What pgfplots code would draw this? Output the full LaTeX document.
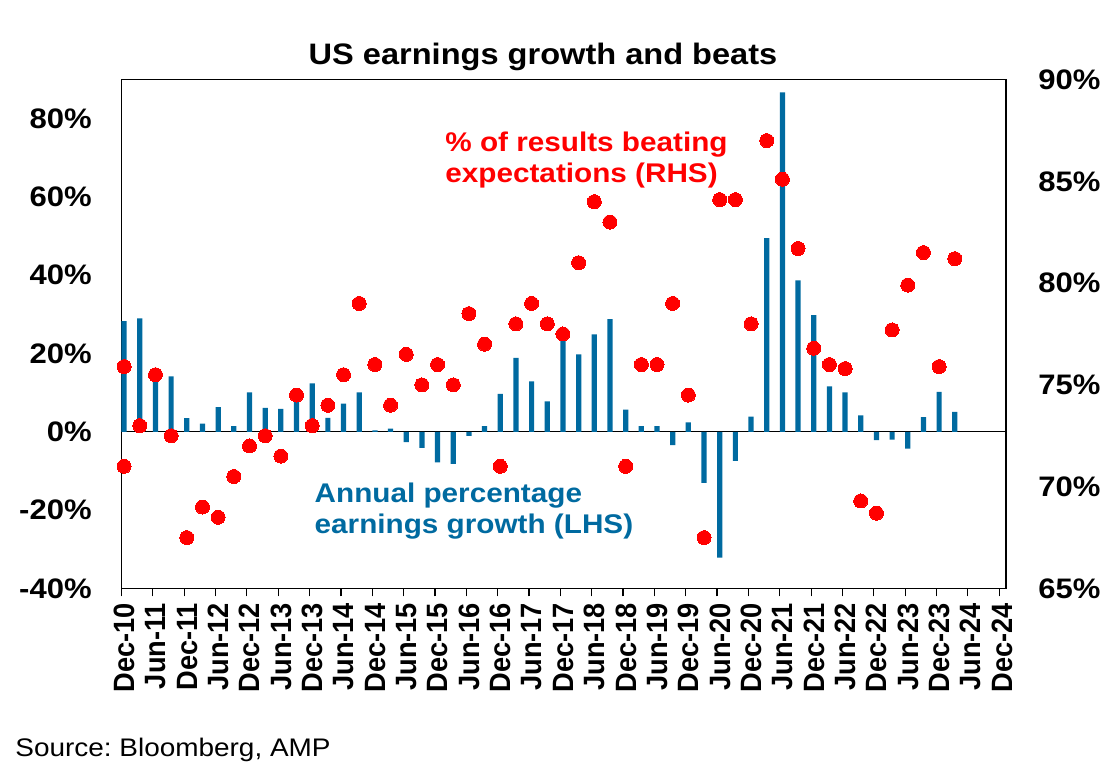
\documentclass[border=0pt]{standalone}
\usepackage{pgfplots}
\pgfplotsset{compat=1.18}
\usepackage{pgfplotstable}
\usepackage{graphicx}
\usepackage{fontspec}
\setmainfont{Liberation Sans}
\newfontfamily\wide{Liberation Sans}[FakeStretch=1.1]
\definecolor{barblue}{RGB}{0,106,160}
\definecolor{dotred}{RGB}{255,0,0}
\newcommand{\ylf}{\wide\bfseries\fontsize{14.1}{16}\selectfont}
\newcommand{\anf}{\wide\bfseries\fontsize{13.5}{16}\selectfont}
\newcommand{\xlf}{\bfseries\fontsize{13.6}{16}\selectfont}
\newcommand{\xl}[1]{\scalebox{1}[1.08]{#1}}
\frenchspacing

\pgfplotstableread{
x y
0.5 28.3
3.5 29.0
6.5 14.5
9.5 14.2
12.5 3.5
15.5 2.1
18.5 6.3
21.5 1.5
24.5 10.1
27.5 6.1
30.5 5.9
33.5 9.0
36.5 12.4
39.5 3.6
42.5 7.2
45.5 10.1
48.5 0.4
51.5 0.85
54.5 -2.6
57.5 -4.1
60.5 -7.8
63.5 -8.2
66.5 -1.0
69.5 1.5
72.5 9.7
75.5 18.9
78.5 12.9
81.5 7.8
84.5 23.5
87.5 19.8
90.5 24.9
93.5 28.8
96.5 5.7
99.5 1.5
102.5 1.45
105.5 -3.4
108.5 2.4
111.5 -13.0
114.5 -32.1
117.5 -7.4
120.5 3.9
123.5 49.5
126.5 86.7
129.5 38.7
132.5 29.8
135.5 11.6
138.5 10.1
141.5 4.2
144.5 -2.1
147.5 -2.0
150.5 -4.3
153.5 3.8
156.5 10.2
159.5 5.1
}\growth

\pgfplotstableread{
x y
0.5 71.0
0.5 75.9
3.5 73.0
6.5 75.5
9.5 72.5
12.5 67.5
15.5 69.0
18.5 68.5
21.5 70.5
24.5 72.0
27.5 72.5
30.5 71.5
33.5 74.5
36.5 73.0
39.5 74.0
42.5 75.5
45.5 79.0
48.5 76.0
51.5 74.0
54.5 76.5
57.5 75.0
60.5 76.0
63.5 75.0
66.5 78.5
69.5 77.0
72.5 71.0
75.5 78.0
78.5 79.0
81.5 78.0
84.5 77.5
87.5 81.0
90.5 84.0
93.5 83.0
96.5 71.0
99.5 76.0
102.5 76.0
105.5 79.0
108.5 74.5
111.5 67.5
114.5 84.1
117.5 84.1
120.5 78.0
123.5 87.0
126.5 85.1
129.5 81.7
132.5 76.8
135.5 76.0
138.5 75.8
141.5 69.3
144.5 68.7
147.5 77.7
150.5 79.9
153.5 81.5
156.5 75.9
159.5 81.2
}\beats

\begin{document}
\begin{tikzpicture}
\useasboundingbox (-60.75pt,-93.75pt) rectangle (496.25pt,294.25pt);
\begin{axis}[
  at={(0pt,0pt)}, anchor=south west,
  scale only axis, width=442.25pt, height=254.5pt,
  xmin=0, xmax=169.3, ymin=-40, ymax=90,
  axis line style={black, line width=0.6pt},
  xtick={0,6,...,168},
  xticklabels={\xl{Dec-10},\xl{Jun-11},\xl{Dec-11},\xl{Jun-12},\xl{Dec-12},\xl{Jun-13},\xl{Dec-13},\xl{Jun-14},\xl{Dec-14},\xl{Jun-15},\xl{Dec-15},\xl{Jun-16},\xl{Dec-16},\xl{Jun-17},\xl{Dec-17},\xl{Jun-18},\xl{Dec-18},\xl{Jun-19},\xl{Dec-19},\xl{Jun-20},\xl{Dec-20},\xl{Jun-21},\xl{Dec-21},\xl{Jun-22},\xl{Dec-22},\xl{Jun-23},\xl{Dec-23},\xl{Jun-24},\xl{Dec-24}},
  xtick pos=left, xtick align=outside,
  major tick length=4pt,
  xtick style={black, line width=0.6pt},
  x tick label style={rotate=90, anchor=east, font=\xlf, inner sep=0pt, xshift=-3pt, yshift=-1.5pt},
  ytick={-40,-20,0,20,40,60,80},
  yticklabels={-40\%,-20\%,0\%,20\%,40\%,60\%,80\%},
  ytick pos=left,
  ytick style={draw=none},
  y tick label style={anchor=east, font=\ylf, inner sep=0pt, xshift=-14.75pt},
  extra y ticks={0}, extra y tick labels={},
  extra y tick style={grid=major, major grid style={black, line width=0.6pt}},
  clip=false,
]
\addplot[ybar, bar width=1, fill=barblue, draw=none] table[x=x,y=y] {\growth};
\end{axis}
\begin{axis}[
  at={(0pt,0pt)}, anchor=south west,
  scale only axis, width=442.25pt, height=254.5pt,
  xmin=0, xmax=169.3, ymin=65, ymax=90,
  hide x axis,
  axis y line*=right,
  axis line style={black, line width=0.6pt},
  ytick={65,70,75,80,85,90},
  yticklabels={65\%,70\%,75\%,80\%,85\%,90\%},
  ytick style={draw=none},
  yticklabel style={anchor=west, font=\ylf, inner sep=0pt},
  yticklabel shift=16pt,
  clip=false,
]
\addplot[only marks, mark=*, mark size=3.5pt, mark options={fill=dotred, draw=dotred, line width=0pt}] table[x=x,y=y] {\beats};
\end{axis}
\node[anchor=base, font=\wide\bfseries\fontsize{14.8}{17}\selectfont] at (210.75pt,262.1pt) {US earnings growth and beats};
\node[anchor=base west, font=\anf, text=dotred, inner sep=0pt] at (161.75pt,218.25pt) {\% of results beating};
\node[anchor=base west, font=\anf, text=dotred, inner sep=0pt] at (161.75pt,202.75pt) {expectations (RHS)};
\node[anchor=base west, font=\anf, text=barblue, inner sep=0pt] at (96.4pt,42.9pt) {Annual percentage};
\node[anchor=base west, font=\anf, text=barblue, inner sep=0pt] at (96.4pt,27.6pt) {earnings growth (LHS)};
\node[anchor=base west, font=\wide\fontsize{12.7}{15}\selectfont, inner sep=0pt] at (-53.25pt,-84.1pt) {Source: Bloomberg, AMP};
\end{tikzpicture}
\end{document}
